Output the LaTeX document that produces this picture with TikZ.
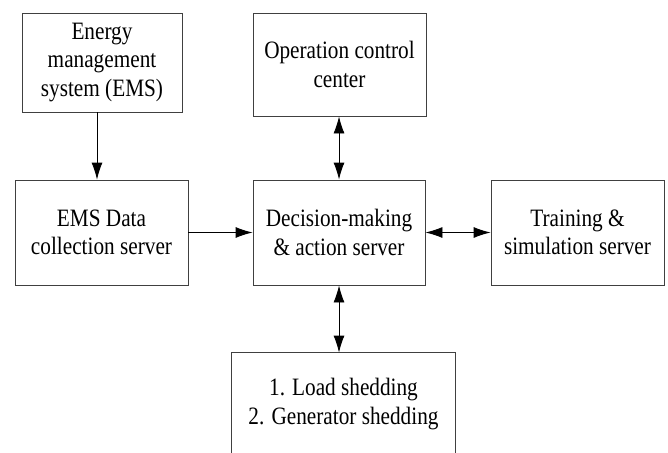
\documentclass[tikz,border=0pt]{standalone}
\usepackage{fontspec}
\setmainfont[FakeStretch=0.85]{Liberation Serif}
\usetikzlibrary{arrows.meta, calc, positioning}
\tikzset{>={Latex[length=17pt,width=11pt]}}

\begin{document}
\begin{tikzpicture}[x=1pt,y=-1pt]
    \useasboundingbox (0,0) rectangle (668,452);
    \begin{scope}[every node/.style={rectangle,draw=black!75,line width=0.9pt,
                  align=center,inner sep=0pt,
                  font=\fontsize{25}{28.5}\selectfont}]
      \node[minimum width=160pt,minimum height=99pt] (ems) at (102,62.5)
        {Energy\\management\\system (EMS)};
      \node[minimum width=173pt,minimum height=103pt] (occ) at (339.5,64.5)
        {Operation control\\center};
      \node[minimum width=173pt,minimum height=105pt] (data) at (101.5,232.5)
        {EMS Data\\collection server};
      \node[minimum width=172pt,minimum height=105pt] (dec) at (339,232.5)
        {Decision-making\\\& action server};
      \node[minimum width=173pt,minimum height=105pt] (train) at (577.5,232.5)
        {Training \&\\simulation server};
      \node[draw=none,minimum width=223pt,minimum height=102pt] (shed) at (343.5,404)
        {1. Load shedding\\2. Generator shedding};
    \end{scope}
    % open box at the bottom
    \draw[draw=black!75,line width=0.9pt] (shed.south west) -- (shed.north west)
      -- (shed.north east) -- (shed.south east);
    \begin{scope}[every edge/.style={draw=black, line width=0.9pt}]
      \path [->] ([xshift=-5pt]ems.south) edge ([xshift=-5pt]ems.south |- data.north);
      \path [->] (data) edge (dec);
      \path [<->] (dec) edge (train);
      \path [<->] (dec.north) edge (dec.north |- occ.south);
      \path [<->] (dec.south) edge (dec.south |- shed.north);
    \end{scope}
  \end{tikzpicture}
\end{document}
